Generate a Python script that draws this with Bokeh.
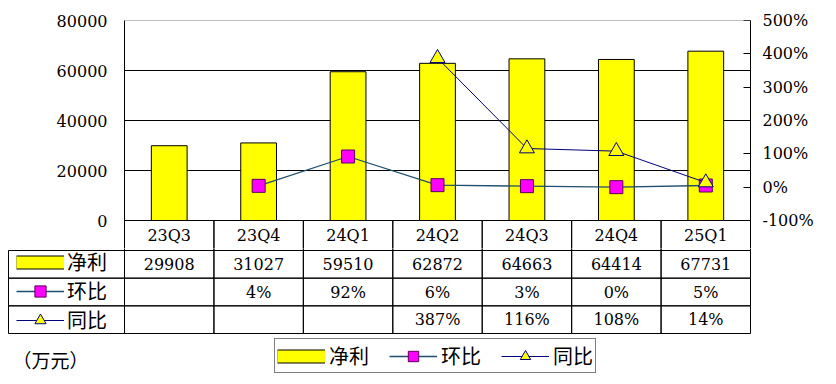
from bokeh.plotting import figure
from bokeh.models import (FactorRange, Range1d, LinearAxis, FixedTicker, PrintfTickFormatter,
                          NumeralTickFormatter, Grid, Legend, LegendItem, Label, Span)
from bokeh.layouts import column
from bokeh.core.properties import value
from bokeh.embed import file_html
from bokeh.resources import INLINE

# ---------------- data ----------------
quarters = ["23Q3", "23Q4", "24Q1", "24Q2", "24Q3", "24Q4", "25Q1"]
net_profit = [29908, 31027, 59510, 62872, 64663, 64414, 67731]
qoq_pct = [None, 4, 92, 6, 3, 0, 5]
yoy_pct = [None, None, None, 387, 116, 108, 14]
left_ticks = [0, 20000, 40000, 60000, 80000]
right_ticks = [-100, 0, 100, 200, 300, 400, 500]
series_names = ["净利", "环比", "同比"]
unit_text = "（万元）"

# ---------------- style / layout ----------------
NUM_FONT = "DejaVu Serif"
CJK_FONT = "Noto Sans CJK SC"
BAR_YELLOW = "#FFFF00"
QOQ_LINE = "#1F4E6E"
YOY_LINE = "#000080"
SQ_FILL = "#FF00FF"
SQ_LINE = "#5A005A"

W, H = 836, 384
PLOT_L, PLOT_R = 124, 750          # plot area left / right edge (px)
TOP = 20                           # plot area top (px)
ZERO_Y = 220                       # y pixel of the zero line
TABLE_TOP = 250                    # bottom of header row
ROW_H = 83 / 3                     # table row height
SPLIT = 248                        # where the upper figure ends
TABLE_LEFT = 8

n = len(quarters)
CW = (PLOT_R - PLOT_L) / n

chart_h = ZERO_Y - TOP
y_max = left_ticks[-1]
y_min = -y_max * (SPLIT - ZERO_Y) / chart_h
p_span = right_ticks[-1] - right_ticks[0]
p_max = right_ticks[-1]
p_min = right_ticks[0] - p_span * (SPLIT - ZERO_Y) / chart_h
header_h = y_max * (TABLE_TOP - ZERO_Y) / chart_h

xr = FactorRange(factors=quarters, range_padding=0)

# ---------------- main chart (with header row) ----------------
p1 = figure(width=W, height=SPLIT, x_range=xr, y_range=Range1d(y_min, y_max),
            x_axis_location=None, y_axis_location=None, toolbar_location=None,
            output_backend="svg", title=None, frame_align=False,
            min_border_left=PLOT_L, min_border_right=W - PLOT_R, min_border_top=TOP,
            min_border_bottom=0, outline_line_color=None)
p1.extra_y_ranges = {"pct": Range1d(p_min, p_max)}
p1.center = [r for r in p1.center if not isinstance(r, Grid)]

ax_l = LinearAxis(ticker=FixedTicker(ticks=left_ticks), formatter=NumeralTickFormatter(format="0"),
                  major_tick_in=0, major_tick_out=0, minor_tick_in=0, minor_tick_out=0,
                  axis_line_color="black", major_label_standoff=17,
                  major_label_text_font=NUM_FONT, major_label_text_font_size="16px",
                  major_label_text_color="black")
p1.add_layout(ax_l, "left")
ax_r = LinearAxis(y_range_name="pct", ticker=FixedTicker(ticks=right_ticks),
                  formatter=PrintfTickFormatter(format="%d%%"),
                  major_tick_in=7, major_tick_out=0, minor_tick_in=0, minor_tick_out=0,
                  axis_line_color="black", major_tick_line_color="black", major_label_standoff=12,
                  major_label_text_font=NUM_FONT, major_label_text_font_size="16px",
                  major_label_text_color="black")
p1.add_layout(ax_r, "right")
p1.add_layout(Grid(dimension=1, ticker=FixedTicker(ticks=left_ticks[1:-1]),
                   grid_line_color="black", grid_line_width=1))
p1.add_layout(Span(location=y_max, dimension="width", line_color="#808080", line_width=1))

# header row of the data table (category labels)
p1.rect(x=quarters, y=-header_h / 2, width=1, height=header_h, fill_color=None, line_color="black")
p1.text(x=quarters, y=-header_h / 2, text=quarters, text_align="center", text_baseline="middle",
        text_font=value(NUM_FONT), text_font_size="16px", text_color="black")

# bars
p1.vbar(x=quarters, top=net_profit, bottom=0, width=0.4, fill_color=BAR_YELLOW,
        line_color="black", line_width=1)

# QoQ line
qx = [q for q, v in zip(quarters, qoq_pct) if v is not None]
qy = [v for v in qoq_pct if v is not None]
p1.line(qx, qy, y_range_name="pct", line_color=QOQ_LINE, line_width=1.3)
p1.scatter(qx, qy, y_range_name="pct", marker="square", size=13, fill_color=SQ_FILL,
           line_color=SQ_LINE, line_width=1)

# YoY line
yx = [q for q, v in zip(quarters, yoy_pct) if v is not None]
yy = [v for v in yoy_pct if v is not None]
p1.line(yx, yy, y_range_name="pct", line_color=YOY_LINE, line_width=1)
p1.scatter(yx, yy, y_range_name="pct", marker="triangle", size=15, fill_color=BAR_YELLOW,
           line_color=YOY_LINE, line_width=1)

# ---------------- data table body + legend ----------------
pB_h = H - SPLIT
x_lo, x_hi = -PLOT_L / CW, (W - PLOT_L) / CW
y_top, y_bot = (SPLIT - TABLE_TOP) / ROW_H, (H - TABLE_TOP) / ROW_H
pB = figure(width=W, height=pB_h, x_range=Range1d(x_lo, x_hi), y_range=Range1d(y_bot, y_top),
            x_axis_location=None, y_axis_location=None, toolbar_location=None,
            output_backend="svg", title=None, min_border=0, outline_line_color=None,
            frame_align=False)
pB.center = [r for r in pB.center if not isinstance(r, Grid)]

nrows = len(series_names)
col_x = [i + 0.5 for i in range(n)]
# value cells (row -1 is the tail of the header row)
cx = [x for r in range(-1, nrows) for x in col_x]
cy = [r + 0.5 for r in range(-1, nrows) for x in col_x]
pB.rect(cx, cy, width=1, height=1, fill_color=None, line_color="black")
# row-name column cells
lc_w = (PLOT_L - TABLE_LEFT) / CW
pB.rect(x=[-lc_w / 2] * nrows, y=[r + 0.5 for r in range(nrows)], width=lc_w, height=1,
        fill_color=None, line_color="black")

row_texts = [[str(v) for v in net_profit],
             [None if v is None else f"{v}%" for v in qoq_pct],
             [None if v is None else f"{v}%" for v in yoy_pct]]
tx, ty, tt = [], [], []
for r, vals in enumerate(row_texts):
    for x, t in zip(col_x, vals):
        if t is not None:
            tx.append(x); ty.append(r + 0.5); tt.append(t)
pB.text(tx, ty, text=tt, text_align="center", text_baseline="middle",
        text_font=value(NUM_FONT), text_font_size="16px", text_color="black")

nan = float("nan")


def legend_renderers(fig):
    b1 = fig.line(x=[nan], y=[nan], line_color="black", line_width=14)
    b2 = fig.line(x=[nan], y=[nan], line_color=BAR_YELLOW, line_width=12)
    q1 = fig.line(x=[nan], y=[nan], line_color=QOQ_LINE, line_width=1.3)
    q2 = fig.scatter(x=[nan], y=[nan], marker="square", fill_color=SQ_FILL, line_color=SQ_LINE)
    y1 = fig.line(x=[nan], y=[nan], line_color=YOY_LINE, line_width=1)
    y2 = fig.scatter(x=[nan], y=[nan], marker="triangle", fill_color=BAR_YELLOW, line_color=YOY_LINE)
    return [[b1, b2], [q1, q2], [y1, y2]]


# row-name keys inside the table
rL = legend_renderers(pB)
legL = Legend(items=[LegendItem(label=nm, renderers=rs) for nm, rs in zip(series_names, rL)],
              orientation="vertical", location=(16, H - TABLE_TOP - 84),
              glyph_width=48, glyph_height=28, padding=0, spacing=0, label_standoff=3,
              label_text_font=CJK_FONT, label_text_font_size="20px", label_text_color="black",
              border_line_color=None, background_fill_alpha=0)
pB.add_layout(legL)

# bottom legend
rT = legend_renderers(pB)
leg = Legend(items=[LegendItem(label=nm, renderers=rs) for nm, rs in zip(series_names, rT)],
             orientation="horizontal", location=(274, 11),
             glyph_width=48, glyph_height=26, padding=2, spacing=20, label_standoff=4,
             label_text_font=CJK_FONT, label_text_font_size="20px", label_text_color="black",
             border_line_color="black", border_line_width=1, background_fill_color="white")
pB.add_layout(leg)

pB.add_layout(Label(x=12, y=25, x_units="screen", y_units="screen", text=unit_text,
                    text_font=CJK_FONT, text_font_size="19px", text_color="black",
                    text_baseline="middle"))

layout = column(p1, pB)
open("out.html", "w").write(file_html(layout, INLINE))
